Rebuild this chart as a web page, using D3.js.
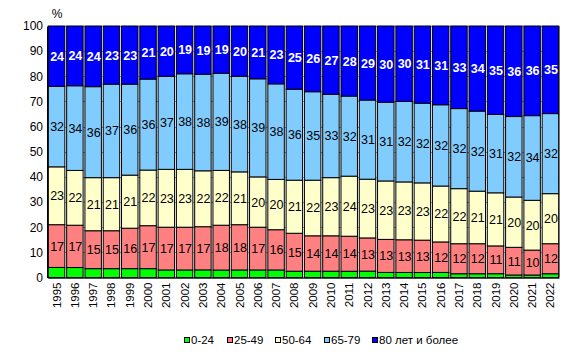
<!DOCTYPE html>
<html><head><meta charset="utf-8">
<script src="https://cdn.jsdelivr.net/npm/d3@7"></script>
<style>body{margin:0;background:#fff}svg{display:block;font-family:"Liberation Sans",Arial,sans-serif}</style>
</head><body><svg id="c" width="573" height="356"></svg>
<script>
const years = ["1995","1996","1997","1998","1999","2000","2001","2002","2003","2004","2005","2006","2007","2008","2009","2010","2011","2012","2013","2014","2015","2016","2017","2018","2019","2020","2021","2022"];
const seriesNames = ["0-24","25-49","50-64","65-79","80 лет и более"];
const age0_24  = [4,4,3.5,3.5,3.5,3.5,3,3,3,3,3,3,3,2.5,2.5,2.5,2.5,2.5,2,2,2,2,1.5,1.5,1.5,1,1,1.5];
const age25_49 = [17,17,15,15,16,17,17,17,17,18,18,17,16,15,14,14,14,13,13,13,13,12,12,12,11,11,10,12];
const age50_64 = [23,22,21,21,21,22,23,23,22,22,21,20,20,21,22,23,24,23,23,23,23,22,22,21,21,20,20,20];
const age65_79 = [32,34,36,37,36,36,37,38,38,39,38,39,38,36,35,33,32,31,31,32,32,32,32,32,31,32,34,32];
const age80    = [24,24,24,23,23,21,20,19,19,19,20,21,23,25,26,27,28,29,30,30,31,31,33,34,35,36,36,35];
const yTicks = [0,10,20,30,40,50,60,70,80,90,100];
const colors = ["#00FF00","#FF8080","#FFFFCC","#80CCFF","#0000FF"];

const seriesArr = [age0_24, age25_49, age50_64, age65_79, age80];
const rows = years.map((y,i)=>{const r={year:y}; seriesNames.forEach((n,k)=>r[n]=seriesArr[k][i]); return r;});
const stack = d3.stack().keys(seriesNames).offset(d3.stackOffsetExpand)(rows);

const svg = d3.select("#c");
const L=48, R=559, T=26, B=277.5;
const x = d3.scaleBand().domain(years).range([L,R]).paddingInner(0.1).paddingOuter(0.02);
const y = d3.scaleLinear().domain([0,1]).range([B,T]);
const yPct = d3.scaleLinear().domain([0,100]).range([B,T]);

// gridlines
svg.append("g").selectAll("line").data(yTicks).join("line")
  .attr("x1",L).attr("x2",R).attr("y1",d=>Math.round(yPct(d))+0.5).attr("y2",d=>Math.round(yPct(d))+0.5)
  .attr("stroke","#999").attr("stroke-width",1);
svg.append("line").attr("x1",R+0.5).attr("x2",R+0.5).attr("y1",T).attr("y2",B).attr("stroke","#888");

// bars
const g = svg.append("g");
stack.forEach((s,k)=>{
  g.append("g").selectAll("rect").data(s).join("rect")
    .attr("x",d=>x(d.data.year)).attr("width",x.bandwidth())
    .attr("y",d=>y(d[1])).attr("height",d=>y(d[0])-y(d[1]))
    .attr("fill",colors[k]).attr("stroke","#000").attr("stroke-width",1);
});
// labels
stack.forEach((s,k)=>{
  if(k===0) return;
  g.append("g").selectAll("text").data(s).join("text")
    .attr("x",d=>x(d.data.year)+x.bandwidth()/2+0.5)
    .attr("y",d=>(y(d[0])+y(d[1]))/2)
    .attr("dy","0.36em").attr("text-anchor","middle")
    .attr("font-size",12.5)
    .attr("font-weight",k===4?"bold":"normal")
    .attr("fill",k===4?"#fff":"#000")
    .text(d=>d.data[seriesNames[k]]);
});

// axes
const ya = d3.axisLeft(yPct).tickValues(yTicks).tickSize(0).tickPadding(4);
const yg = svg.append("g").attr("transform",`translate(${L-1},0)`).call(ya);
yg.select(".domain").attr("stroke","#000");
yg.selectAll("text").attr("font-size",12).attr("fill","#000").attr("font-family","Liberation Sans, Arial, sans-serif");
const xa = d3.axisBottom(x).tickSize(0).tickPadding(0);
const xg = svg.append("g").attr("transform",`translate(0,${B})`).call(xa);
xg.select(".domain").attr("stroke","#000");
xg.selectAll("text").attr("font-size",11.5).attr("fill","#000").attr("font-family","Liberation Sans, Arial, sans-serif")
  .attr("text-anchor","end").attr("dy","0.35em").attr("dx",0)
  .attr("transform","translate(0,5) rotate(-90)").attr("y",0).attr("x",0);

svg.append("text").attr("x",57).attr("y",18).attr("text-anchor","middle").attr("font-size",12).text("%");

// legend
const legX = [184,227,275,324,372];
const lg = svg.append("g");
seriesNames.forEach((n,k)=>{
  lg.append("rect").attr("x",legX[k]+0.5).attr("y",337.5).attr("width",5).attr("height",5).attr("fill",colors[k]).attr("stroke","#000");
  lg.append("text").attr("x",legX[k]+7).attr("y",344).attr("font-size",11.5).text(n);
});
</script></body></html>
